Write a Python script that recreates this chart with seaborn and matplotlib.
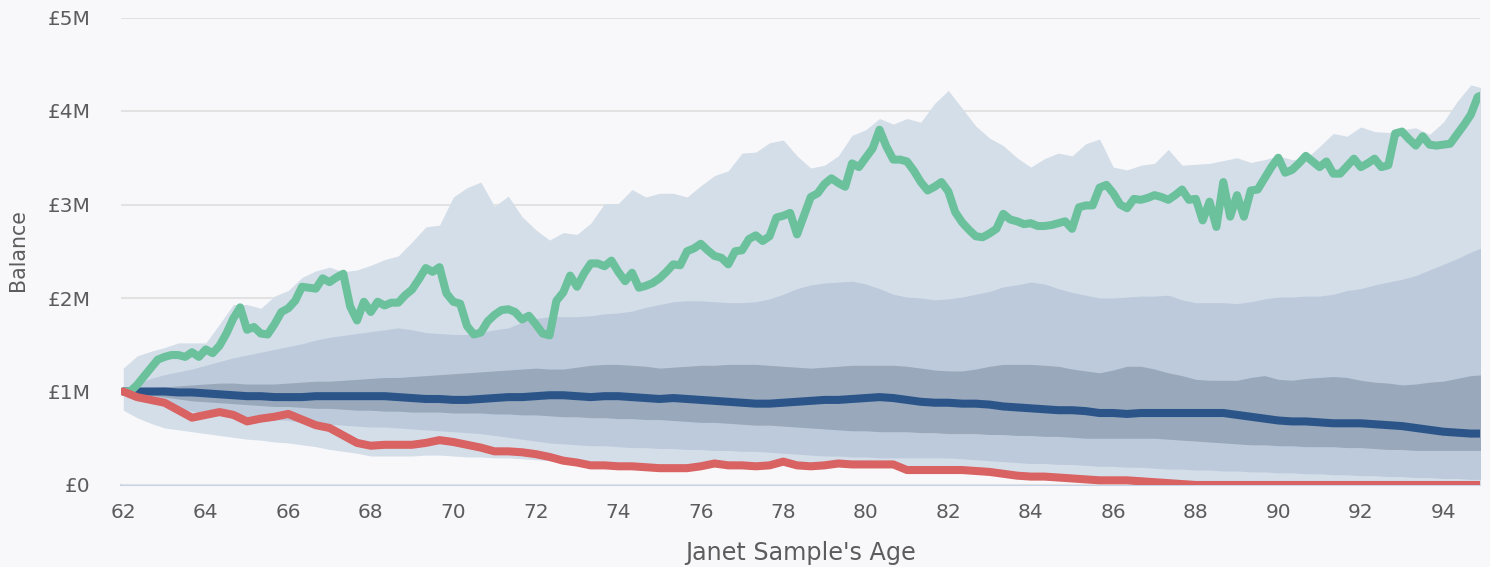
import numpy as np
import matplotlib
matplotlib.use("Agg")
import matplotlib.pyplot as plt
import seaborn as sns
from matplotlib.ticker import FuncFormatter


# ==========================================
# Data (balances in £ millions)
# ==========================================
# two-monthly steps from 62 to 95, bands and median use every second step
ages = 62 + np.arange(199) / 6
ages_coarse = ages[::2]

# strong markets scenario, one row per year of age
good = [
    1.00, 1.00, 1.07, 1.16, 1.25, 1.34,
    1.37, 1.39, 1.39, 1.37, 1.42, 1.37,
    1.45, 1.41, 1.49, 1.62, 1.78, 1.90,
    1.66, 1.69, 1.62, 1.61, 1.72, 1.85,
    1.89, 1.97, 2.12, 2.11, 2.10, 2.21,
    2.17, 2.22, 2.26, 1.91, 1.76, 1.96,
    1.85, 1.96, 1.92, 1.95, 1.95, 2.03,
    2.09, 2.20, 2.32, 2.28, 2.33, 2.05,
    1.96, 1.94, 1.70, 1.61, 1.63, 1.75,
    1.82, 1.87, 1.88, 1.85, 1.77, 1.81,
    1.72, 1.62, 1.60, 1.97, 2.06, 2.24,
    2.12, 2.26, 2.37, 2.37, 2.34, 2.40,
    2.28, 2.18, 2.27, 2.11, 2.13, 2.16,
    2.21, 2.28, 2.36, 2.35, 2.50, 2.53,
    2.58, 2.51, 2.45, 2.43, 2.36, 2.50,
    2.51, 2.63, 2.67, 2.61, 2.66, 2.86,
    2.88, 2.91, 2.68, 2.88, 3.08, 3.12,
    3.22, 3.28, 3.23, 3.19, 3.44, 3.40,
    3.50, 3.60, 3.80, 3.62, 3.48, 3.48,
    3.46, 3.36, 3.24, 3.15, 3.19, 3.24,
    3.14, 2.92, 2.81, 2.73, 2.66, 2.65,
    2.69, 2.74, 2.90, 2.84, 2.82, 2.79,
    2.80, 2.77, 2.77, 2.78, 2.80, 2.82,
    2.74, 2.97, 2.99, 2.99, 3.18, 3.21,
    3.12, 3.00, 2.96, 3.06, 3.05, 3.07,
    3.10, 3.08, 3.05, 3.10, 3.16, 3.05,
    3.06, 2.83, 3.03, 2.76, 3.24, 2.87,
    3.10, 2.87, 3.15, 3.16, 3.28, 3.40,
    3.50, 3.34, 3.37, 3.44, 3.52, 3.46,
    3.40, 3.46, 3.33, 3.33, 3.41, 3.49,
    3.40, 3.44, 3.49, 3.40, 3.42, 3.76,
    3.78, 3.70, 3.63, 3.73, 3.64, 3.63,
    3.64, 3.65, 3.75, 3.85, 3.96, 4.15,
    4.18,
]

median = [
    1.00, 1.00, 1.00,  1.00, 0.99, 0.99,  0.98, 0.97, 0.96,  0.95, 0.95, 0.94,
    0.94, 0.94, 0.95,  0.95, 0.95, 0.95,  0.95, 0.95, 0.94,  0.93, 0.92, 0.92,
    0.91, 0.91, 0.92,  0.93, 0.94, 0.94,  0.95, 0.96, 0.96,  0.95, 0.94, 0.95,
    0.95, 0.94, 0.93,  0.92, 0.93, 0.92,  0.91, 0.90, 0.89,  0.88, 0.87, 0.87,
    0.88, 0.89, 0.90,  0.91, 0.91, 0.92,  0.93, 0.94, 0.93,  0.91, 0.89, 0.88,
    0.88, 0.87, 0.87,  0.86, 0.84, 0.83,  0.82, 0.81, 0.80,  0.80, 0.79, 0.77,
    0.77, 0.76, 0.77,  0.77, 0.77, 0.77,  0.77, 0.77, 0.77,  0.75, 0.73, 0.71,
    0.69, 0.68, 0.68,  0.67, 0.66, 0.66,  0.66, 0.65, 0.64,  0.63, 0.61, 0.59,
    0.57, 0.56, 0.55,  0.55,
]

poor = [
    1.00, 0.94, 0.91,  0.88, 0.80, 0.72,  0.75, 0.78, 0.75,  0.68, 0.71, 0.73,
    0.76, 0.70, 0.64,  0.61, 0.53, 0.45,  0.42, 0.43, 0.43,  0.43, 0.45, 0.48,
    0.46, 0.43, 0.40,  0.36, 0.36, 0.35,  0.33, 0.30, 0.26,  0.24, 0.21, 0.21,
    0.20, 0.20, 0.19,  0.18, 0.18, 0.18,  0.20, 0.23, 0.21,  0.21, 0.20, 0.21,
    0.25, 0.21, 0.20,  0.21, 0.23, 0.22,  0.22, 0.22, 0.22,  0.16, 0.16, 0.16,
    0.16, 0.16, 0.15,  0.14, 0.12, 0.10,  0.09, 0.09, 0.08,  0.07, 0.06, 0.05,
    0.05, 0.05, 0.04,  0.03, 0.02, 0.01,  0.00, 0.00, 0.00,  0.00, 0.00, 0.00,
    0.00, 0.00, 0.00,  0.00, 0.00, 0.00,  0.00, 0.00, 0.00,  0.00, 0.00, 0.00,
    0.00, 0.00, 0.00,  0.00,
]

# percentile bands: outer (widest), middle, inner
outer_hi = [
    1.25, 1.38, 1.43,  1.47, 1.52, 1.52,  1.52, 1.72, 1.93,  1.93, 1.89, 2.02,
    2.08, 2.22, 2.29,  2.33, 2.28, 2.30,  2.35, 2.41, 2.45,  2.60, 2.76, 2.78,
    3.08, 3.18, 3.24,  2.98, 3.09, 2.87,  2.73, 2.62, 2.70,  2.68, 2.80, 3.01,
    3.01, 3.16, 3.08,  3.12, 3.12, 3.08,  3.20, 3.31, 3.36,  3.55, 3.56, 3.66,
    3.69, 3.52, 3.39,  3.42, 3.52, 3.74,  3.80, 3.92, 3.86,  3.92, 3.88, 4.08,
    4.22, 4.03, 3.84,  3.71, 3.63, 3.50,  3.40, 3.49, 3.55,  3.52, 3.65, 3.70,
    3.40, 3.37, 3.42,  3.44, 3.59, 3.42,  3.43, 3.44, 3.47,  3.50, 3.45, 3.48,
    3.52, 3.48, 3.49,  3.62, 3.76, 3.73,  3.83, 3.78, 3.77,  3.80, 3.82, 3.75,
    3.88, 4.10, 4.28,  4.24,
]
outer_lo = [
    0.80, 0.72, 0.66,  0.61, 0.59, 0.57,  0.55, 0.53, 0.51,  0.49, 0.48, 0.46,
    0.45, 0.43, 0.41,  0.38, 0.36, 0.34,  0.31, 0.31, 0.31,  0.31, 0.32, 0.32,
    0.31, 0.30, 0.30,  0.29, 0.29, 0.28,  0.27, 0.26, 0.24,  0.23, 0.21, 0.20,
    0.20, 0.19, 0.19,  0.18, 0.18, 0.18,  0.19, 0.20, 0.20,  0.20, 0.19, 0.20,
    0.21, 0.20, 0.19,  0.20, 0.21, 0.21,  0.21, 0.21, 0.21,  0.16, 0.16, 0.16,
    0.15, 0.15, 0.14,  0.13, 0.12, 0.10,  0.09, 0.08, 0.07,  0.06, 0.05, 0.04,
    0.04, 0.03, 0.03,  0.02, 0.01, 0.01,  0.00, 0.00, 0.00,  0.00, 0.00, 0.00,
    0.00, 0.00, 0.00,  0.00, 0.00, 0.00,  0.00, 0.00, 0.00,  0.00, 0.00, 0.00,
    0.00, 0.00, 0.00,  0.00,
]
middle_hi = [
    1.00, 1.08, 1.14,  1.18, 1.21, 1.24,  1.28, 1.32, 1.36,  1.39, 1.42, 1.45,
    1.48, 1.51, 1.55,  1.58, 1.60, 1.62,  1.64, 1.66, 1.68,  1.66, 1.63, 1.62,
    1.61, 1.61, 1.63,  1.66, 1.68, 1.74,  1.78, 1.80, 1.80,  1.80, 1.81, 1.83,
    1.84, 1.86, 1.90,  1.93, 1.96, 1.97,  1.97, 1.96, 1.95,  1.95, 1.96, 1.99,
    2.04, 2.10, 2.14,  2.16, 2.17, 2.18,  2.15, 2.10, 2.04,  2.01, 2.00, 1.98,
    1.99, 2.01, 2.04,  2.07, 2.12, 2.14,  2.17, 2.15, 2.10,  2.06, 2.03, 2.00,
    2.00, 2.01, 2.02,  2.02, 2.03, 1.98,  1.95, 1.95, 1.95,  1.94, 1.96, 1.99,
    2.01, 2.01, 2.02,  2.02, 2.04, 2.08,  2.10, 2.14, 2.17,  2.20, 2.24, 2.30,
    2.36, 2.42, 2.49,  2.55,
]
middle_lo = [
    1.00, 0.94, 0.89,  0.85, 0.82, 0.79,  0.77, 0.75, 0.73,  0.72, 0.71, 0.70,
    0.69, 0.67, 0.66,  0.65, 0.64, 0.63,  0.62, 0.62, 0.61,  0.60, 0.59, 0.58,
    0.57, 0.56, 0.55,  0.53, 0.51, 0.49,  0.47, 0.45, 0.44,  0.43, 0.42, 0.42,
    0.41, 0.40, 0.40,  0.39, 0.39, 0.38,  0.38, 0.37, 0.37,  0.36, 0.36, 0.35,
    0.34, 0.33, 0.32,  0.31, 0.31, 0.30,  0.30, 0.29, 0.29,  0.29, 0.29, 0.29,
    0.29, 0.28, 0.27,  0.26, 0.25, 0.24,  0.23, 0.23, 0.22,  0.22, 0.21, 0.20,
    0.20, 0.19, 0.19,  0.18, 0.17, 0.17,  0.16, 0.16, 0.15,  0.15, 0.14, 0.14,
    0.13, 0.13, 0.12,  0.12, 0.11, 0.11,  0.10, 0.10, 0.09,  0.09, 0.08, 0.08,
    0.07, 0.07, 0.06,  0.06,
]
inner_hi = [
    1.00, 1.03, 1.04,  1.05, 1.06, 1.07,  1.08, 1.09, 1.09,  1.08, 1.08, 1.08,
    1.09, 1.10, 1.11,  1.11, 1.12, 1.13,  1.14, 1.15, 1.15,  1.16, 1.17, 1.18,
    1.19, 1.20, 1.21,  1.22, 1.23, 1.24,  1.25, 1.24, 1.24,  1.26, 1.28, 1.29,
    1.29, 1.28, 1.27,  1.25, 1.26, 1.27,  1.28, 1.28, 1.29,  1.29, 1.29, 1.28,
    1.27, 1.26, 1.25,  1.26, 1.27, 1.28,  1.28, 1.28, 1.28,  1.27, 1.25, 1.23,
    1.22, 1.22, 1.24,  1.27, 1.29, 1.29,  1.29, 1.28, 1.27,  1.24, 1.22, 1.20,
    1.23, 1.27, 1.27,  1.24, 1.20, 1.17,  1.13, 1.12, 1.12,  1.12, 1.15, 1.17,
    1.13, 1.12, 1.14,  1.15, 1.16, 1.15,  1.12, 1.10, 1.09,  1.07, 1.08, 1.10,
    1.11, 1.14, 1.17,  1.18,
]
inner_lo = [
    1.00, 0.98, 0.96,  0.94, 0.92, 0.90,  0.89, 0.88, 0.87,  0.86, 0.85, 0.84,
    0.84, 0.83, 0.82,  0.82, 0.81, 0.80,  0.80, 0.79, 0.79,  0.78, 0.78, 0.78,
    0.77, 0.77, 0.77,  0.76, 0.76, 0.75,  0.75, 0.74, 0.73,  0.73, 0.72, 0.72,
    0.71, 0.71, 0.70,  0.70, 0.69, 0.68,  0.67, 0.67, 0.66,  0.65, 0.64, 0.64,
    0.63, 0.62, 0.61,  0.60, 0.59, 0.58,  0.58, 0.57, 0.57,  0.57, 0.56, 0.56,
    0.55, 0.55, 0.55,  0.54, 0.54, 0.53,  0.53, 0.52, 0.52,  0.51, 0.50, 0.50,
    0.50, 0.50, 0.50,  0.50, 0.49, 0.48,  0.47, 0.46, 0.45,  0.44, 0.43, 0.43,
    0.42, 0.42, 0.41,  0.41, 0.41, 0.40,  0.40, 0.39, 0.38,  0.38, 0.37, 0.37,
    0.37, 0.37, 0.37,  0.37,
]

age_ticks = list(range(62, 96, 2))
balance_ticks = [0, 1, 2, 3, 4, 5]


# ==========================================
# Plot
# ==========================================
sns.set_theme(style="white")
plt.rcParams['font.family'] = ['DejaVu Sans']

bg = '#f8f8fa'
text_col = '#5c5c5c'
axis_col = '#c6d3e6'

fig = plt.figure(figsize=(14.9, 5.67), dpi=100, facecolor=bg)
ax = fig.add_axes([121 / 1490, 82 / 567, 1359 / 1490, 467.5 / 567])
ax.set_facecolor(bg)

# fan of outcomes
ax.fill_between(ages_coarse, outer_lo, outer_hi, color='#d4dee9', lw=0, zorder=1)
ax.fill_between(ages_coarse, middle_lo, middle_hi, color='#bccadb', lw=0, zorder=1)
ax.fill_between(ages_coarse, inner_lo, inner_hi, color='#99a8bb', lw=0, zorder=1)

line_kw = dict(lw=5.8, solid_capstyle='round', solid_joinstyle='round', legend=False)
sns.lineplot(x=ages_coarse, y=median, color='#2b5589', ax=ax, zorder=3, **line_kw)
sns.lineplot(x=ages, y=good, color='#6cc19d', ax=ax, zorder=4, **line_kw)
sns.lineplot(x=ages_coarse, y=poor, color='#d96262', ax=ax, zorder=5, **line_kw)

ax.set_xlim(61.945, 94.89)
ax.set_ylim(0, 5)
ax.set_xticks(age_ticks)
ax.set_yticks(balance_ticks)
ax.yaxis.set_major_formatter(FuncFormatter(lambda v, p: '£0' if v == 0 else f'£{v:.0f}M'))

ax.yaxis.grid(True, color='#e2e2e2', lw=1.5)
ax.xaxis.grid(False)
ax.set_axisbelow(True)

for side in ['left', 'right', 'top']:
    ax.spines[side].set_visible(False)
ax.spines['bottom'].set_color(axis_col)
ax.spines['bottom'].set_linewidth(1.5)
ax.spines['bottom'].set_zorder(0.5)

ax.tick_params(axis='x', colors=axis_col, length=7.2, width=1.5, pad=5.5,
               labelsize=14.5, labelcolor=text_col)
ax.tick_params(axis='y', length=0, pad=22, labelsize=14.5, labelcolor=text_col)

ax.set_xlabel("Janet Sample's Age", fontsize=17.2, color=text_col, va='center')
ax.set_ylabel('Balance', fontsize=14.8, color=text_col, va='center', ha='center')
ax.xaxis.set_label_coords(0.5, -0.145)
ax.yaxis.set_label_coords(-0.0758, 0.503)

fig.savefig('out.png', dpi=100, facecolor=bg)
